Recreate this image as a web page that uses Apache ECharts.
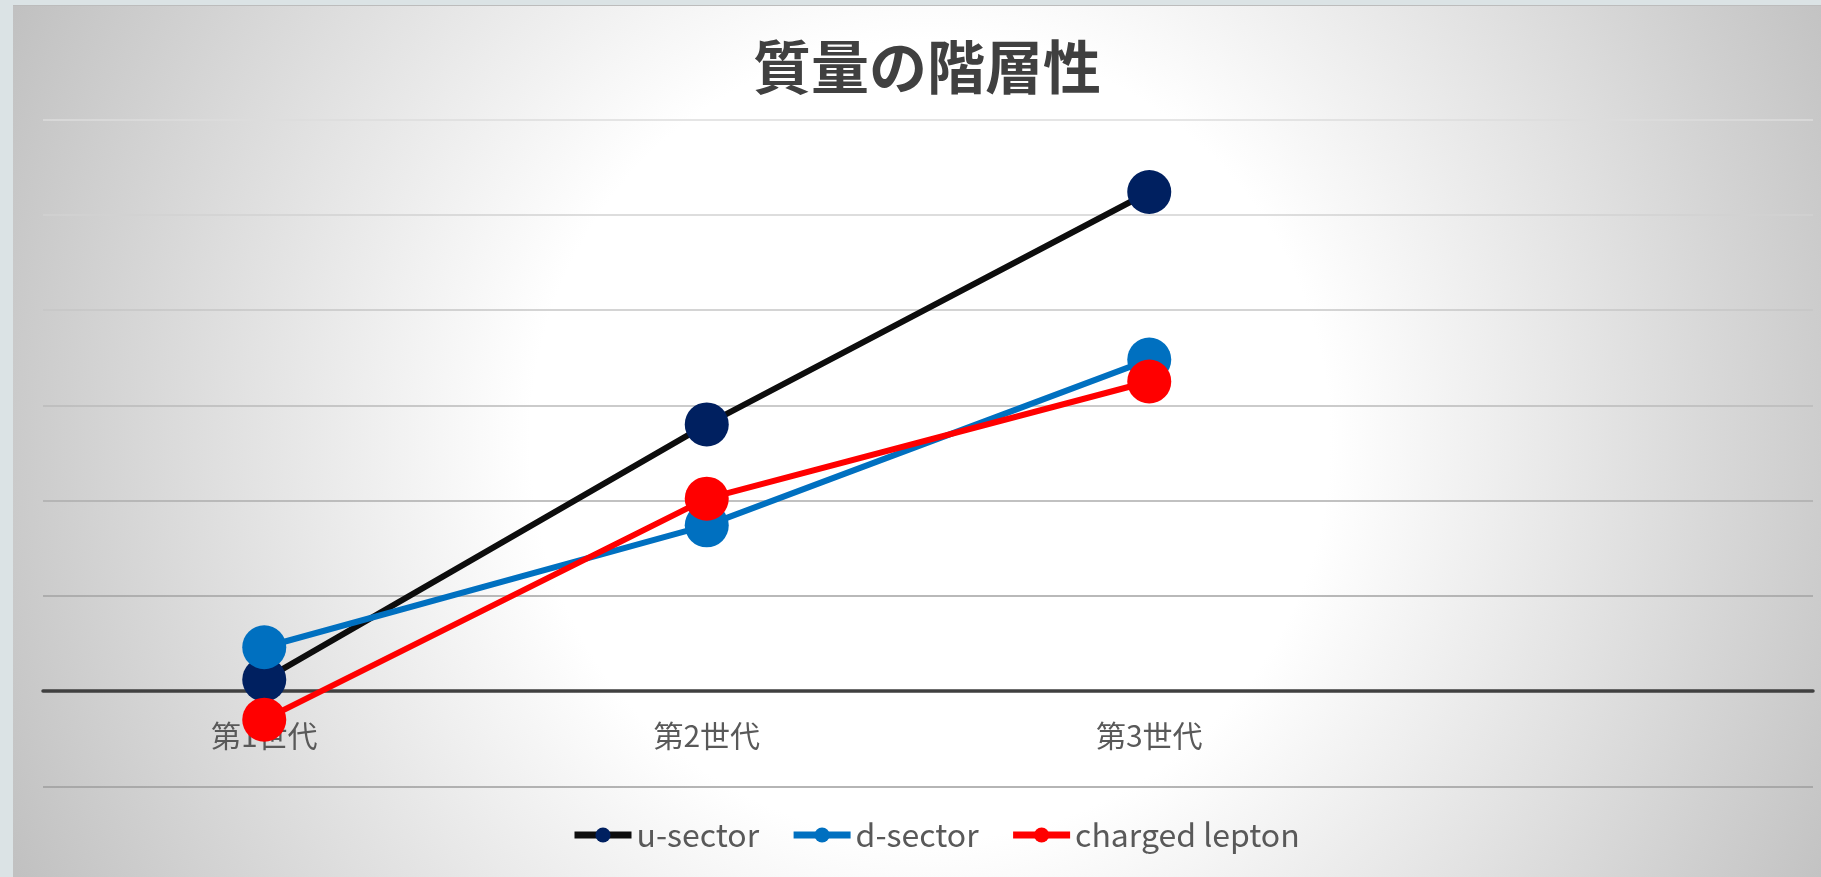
<!DOCTYPE html>
<html>
<head>
<meta charset="utf-8">
<script src="https://cdn.jsdelivr.net/npm/echarts@6/dist/echarts.min.js"></script>
<style>
html,body{margin:0;padding:0;width:1821px;height:877px;overflow:hidden;background:#dbe3e5;}
#chart{position:absolute;left:13px;top:5px;width:1808px;height:871px;border-top:1px solid #bcbcbc;
background:radial-gradient(circle at 917px 434px,#ffffff 0px,#ffffff 400px,#c1c1c1 1010px);}
</style>
</head>
<body>
<div id="chart"></div>
<script>
// ---- data ----
var categories = ['第1世代', '第2世代', '第3世代', ''];
var seriesNames = ['u-sector', 'd-sector', 'charged lepton'];
var uSector = [0.12, 2.80, 5.24, null];
var dSector = [0.46, 1.74, 3.48, null];
var chargedLepton = [-0.30, 2.02, 3.25, null];
var yMin = -1, yMax = 6, yInterval = 1;

var chart = echarts.init(document.getElementById('chart'), null, {renderer: 'canvas'});
var fontJP = '"Noto Sans CJK JP", "Noto Sans", sans-serif';
var gridColors = ['#9c9c9c', '#404040', '#a2a2a2', '#acacac', '#bababa', '#c6c6c6', '#d2d2d2', '#dcdcdc'];

function lineSeries(name, data, lineColor, markerColor) {
  return {
    name: name,
    type: 'line',
    data: data,
    symbol: 'circle',
    symbolSize: 44,
    showSymbol: true,
    lineStyle: {color: lineColor, width: 6},
    itemStyle: {color: markerColor},
    emphasis: {disabled: true},
    animation: false
  };
}

chart.setOption({
  backgroundColor: 'transparent',
  animation: false,
  title: {
    text: '質量の階層性',
    left: 740,
    top: 32,
    padding: 0,
    textStyle: {fontFamily: fontJP, fontWeight: 'bold', fontSize: 58, color: '#404040'}
  },
  legend: {
    data: seriesNames,
    left: 558,
    top: 813,
    padding: 0,
    itemWidth: 57,
    itemHeight: 19,
    itemGap: 31,
    lineStyle: {width: 7},
    textStyle: {fontFamily: fontJP, fontSize: 32, color: '#595959'}
  },
  grid: {left: 30, right: 8, top: 113.6, bottom: 90.7, containLabel: false},
  xAxis: {
    type: 'category',
    data: categories,
    boundaryGap: true,
    axisLine: {show: true, onZero: true, lineStyle: {color: '#404040', width: 3.5}},
    axisTick: {show: false},
    axisLabel: {margin: -66, fontFamily: fontJP, fontSize: 30, color: '#595959'},
    splitLine: {show: false}
  },
  yAxis: {
    type: 'value',
    min: yMin,
    max: yMax,
    interval: yInterval,
    axisLine: {show: false},
    axisTick: {show: false},
    axisLabel: {show: false},
    splitLine: {show: true, lineStyle: {color: gridColors, width: 1.5}}
  },
  series: [
    lineSeries(seriesNames[0], uSector, '#0d0d0d', '#002060'),
    lineSeries(seriesNames[1], dSector, '#0070c0', '#0070c0'),
    lineSeries(seriesNames[2], chargedLepton, '#ff0000', '#ff0000')
  ]
});
</script>
</body>
</html>
